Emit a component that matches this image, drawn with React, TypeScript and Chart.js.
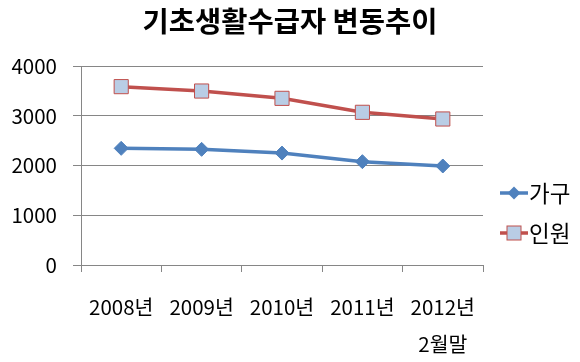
import React, { useEffect, useRef } from "react";
import { Chart, registerables } from "chart.js";

Chart.register(...registerables);

const categories: (string | string[])[] = ["2008년", "2009년", "2010년", "2011년", ["2012년", "2월말"]];
const householdValues = [2345, 2325, 2250, 2077, 1990];
const personValues = [3585, 3497, 3350, 3069, 2935];
const seriesNames = ["가구", "인원"];
const yTicks = [0, 1000, 2000, 3000, 4000];
const titleText = "기초생활수급자 변동추이";

const FONT = "'Noto Sans CJK KR', 'Noto Sans', sans-serif";
const BLUE = "#4F81BD";
const RED = "#C0504D";
const SQUARE_FILL = "#B9CDE5";
const GRID = "#868686";

const overlayPlugin = {
  id: "overlay",
  afterDraw(chart: any) {
    const ctx = chart.ctx as CanvasRenderingContext2D;
    ctx.save();
    // title
    ctx.fillStyle = "#000";
    ctx.font = `bold 28.5px ${FONT}`;
    ctx.textAlign = "center";
    ctx.textBaseline = "middle";
    ctx.fillText(titleText, 290, 21);

    // legend
    const items = [
      { name: seriesNames[0], y: 193, color: BLUE, marker: "diamond" },
      { name: seriesNames[1], y: 233, color: RED, marker: "square" },
    ];
    items.forEach((it) => {
      ctx.strokeStyle = it.color;
      ctx.lineWidth = 3.5;
      ctx.beginPath();
      ctx.moveTo(500, it.y);
      ctx.lineTo(528, it.y);
      ctx.stroke();
      const cx = 514;
      if (it.marker === "diamond") {
        ctx.fillStyle = BLUE;
        ctx.beginPath();
        ctx.moveTo(cx, it.y - 6.5);
        ctx.lineTo(cx + 6.5, it.y);
        ctx.lineTo(cx, it.y + 6.5);
        ctx.lineTo(cx - 6.5, it.y);
        ctx.closePath();
        ctx.fill();
      } else {
        ctx.fillStyle = SQUARE_FILL;
        ctx.strokeStyle = RED;
        ctx.lineWidth = 1;
        ctx.fillRect(cx - 7, it.y - 7, 14, 14);
        ctx.strokeRect(cx - 7, it.y - 7, 14, 14);
      }
      ctx.fillStyle = "#000";
      ctx.font = `22.5px ${FONT}`;
      ctx.textAlign = "left";
      ctx.textBaseline = "middle";
      ctx.fillText(it.name, 529, it.y);
    });
    ctx.restore();
  },
};

export default function App() {
  const ref = useRef<HTMLCanvasElement | null>(null);

  useEffect(() => {
    if (!ref.current) return;
    const chart = new Chart(ref.current, {
      type: "line",
      data: {
        labels: categories,
        datasets: [
          {
            label: seriesNames[0],
            data: householdValues,
            borderColor: BLUE,
            backgroundColor: BLUE,
            borderWidth: 3.5,
            pointStyle: "rectRot",
            pointRadius: 7,
            pointBorderWidth: 1,
            pointBackgroundColor: BLUE,
            pointBorderColor: BLUE,
            tension: 0,
          },
          {
            label: seriesNames[1],
            data: personValues,
            borderColor: RED,
            backgroundColor: SQUARE_FILL,
            borderWidth: 3.5,
            pointStyle: "rect",
            pointRadius: 10,
            pointBorderWidth: 1,
            pointBackgroundColor: SQUARE_FILL,
            pointBorderColor: RED,
            tension: 0,
          },
        ],
      },
      options: {
        responsive: false,
        animation: false,
        layout: { padding: { top: 66, right: 97, left: 0, bottom: 0 } },
        plugins: {
          legend: { display: false },
          title: { display: false },
          tooltip: { enabled: false },
        },
        scales: {
          x: {
            type: "category",
            offset: true,
            grid: {
              offset: true,
              drawOnChartArea: false,
              drawTicks: true,
              tickLength: 7,
              color: GRID,
            },
            border: { color: GRID, width: 1 },
            ticks: {
              color: "#000",
              padding: 17,
              maxRotation: 0,
              autoSkip: false,
              font: { family: FONT, size: 20.5, lineHeight: "37px" as any },
            },
            afterFit(scale: any) {
              scale.height = 97;
            },
          },
          y: {
            min: 0,
            max: 4000,
            afterBuildTicks(scale: any) {
              scale.ticks = yTicks.map((v) => ({ value: v }));
            },
            grid: {
              color: GRID,
              drawTicks: true,
              tickLength: 8,
            },
            border: { color: GRID, width: 1 },
            ticks: {
              color: "#000",
              padding: 16,
              font: { family: FONT, size: 20.5 },
              callback: (v: any) => String(v),
            },
            afterFit(scale: any) {
              scale.width = 81;
            },
          },
        },
      },
      plugins: [overlayPlugin],
    });
    return () => chart.destroy();
  }, []);

  return (
    <div style={{ position: "fixed", left: 0, top: 0, width: 580, height: 362, background: "#fff" }}>
      <canvas ref={ref} width={580} height={362} style={{ display: "block" }} />
    </div>
  );
}
